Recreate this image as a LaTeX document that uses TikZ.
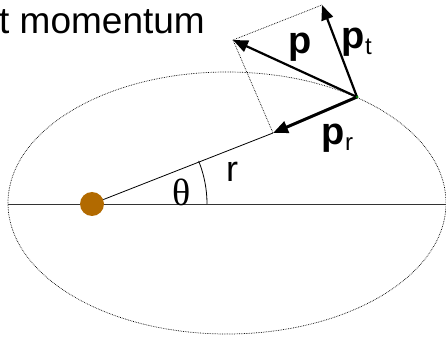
\documentclass[tikz,border=0pt]{standalone}
\usepackage{fontspec}
\setmainfont{Liberation Sans}
\newfontfamily\thetafont{Liberation Serif}
\usetikzlibrary{arrows.meta}
\definecolor{suncol}{RGB}{178,106,0}
\definecolor{dotgreen}{RGB}{0,120,0}
\begin{document}
\begin{tikzpicture}[x=1pt,y=-1pt,
  vec/.style={line width=2.2pt,-{Triangle[length=15pt,width=12pt]}},
  guide/.style={densely dotted,line width=0.7pt},
  lbl/.style={inner sep=0pt,font=\fontsize{36}{36}\selectfont},
  sublbl/.style={inner sep=0pt,font=\fontsize{24}{24}\selectfont}]
\useasboundingbox (0,0) rectangle (446,344);
\clip (0,0) rectangle (446,344);
% orbit
\draw[guide] (227,203) ellipse [x radius=219pt, y radius=131pt];
% axis
\coordinate (L) at (8,204);
\coordinate (R) at (446,204);
\draw[line width=0.8pt,black!80] (L) -- (R);
% points
\coordinate (P) at (357,97);
\coordinate (prtip) at (273,133);
\coordinate (ptip) at (233,40);
\coordinate (pttip) at (322,5);
% sun
\node[circle,fill=suncol,minimum size=24pt,inner sep=0pt] (sun) at (92,204) {};
% radius line
\draw[line width=0.8pt] (sun) -- (prtip);
% angle arc
\draw[line width=0.8pt] (207,204) arc[start angle=0,end angle=-22,radius=115];
% guides
\draw[guide] (ptip) -- (pttip);
\draw[guide] (ptip) -- (prtip);
% vectors
\draw[vec] (P) -- (ptip);
\draw[vec] (P) -- (pttip);
\draw[vec,line width=3pt] (P) -- (prtip);
\node[circle,fill=dotgreen,minimum size=3pt,inner sep=0pt] (Pdot) at (P) {};
% labels
\node[anchor=base west,inner sep=0pt,font=\fontsize{37}{37}\selectfont] (title) at (-1,34) {t momentum};
\node[inner sep=0pt,font=\fontsize{38}{38}\thetafont] (theta) at (182,192) {θ};
\node[lbl] (rl) at (232,172) {r};
\node[lbl,font=\fontsize{38}{38}\selectfont\bfseries] (pl) at (300,47) {p};
\node[lbl,font=\fontsize{38}{38}\selectfont\bfseries] (ptl) at (353,42) {p};
\node[sublbl,anchor=base west] (ptsub) at (ptl.base east) {\raisebox{-6pt}{t}};
\node[lbl,font=\fontsize{38}{38}\selectfont\bfseries] (prl) at (333,138) {p};
\node[sublbl,anchor=base west] (prsub) at (prl.base east) {\raisebox{-6pt}{r}};
\end{tikzpicture}
\end{document}
